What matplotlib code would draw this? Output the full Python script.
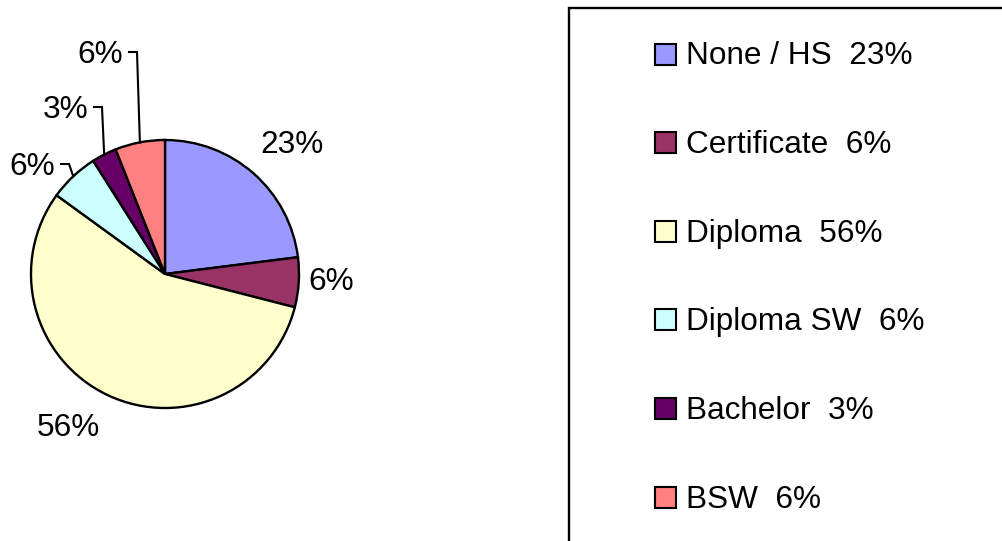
import matplotlib
matplotlib.use("Agg")
import matplotlib.pyplot as plt
from matplotlib.patches import Rectangle
import numpy as np

plt.rcParams["font.family"] = ["Liberation Sans", "DejaVu Sans"]

W, H = 1003, 541

categories = ["None / HS", "Certificate", "Diploma", "Diploma SW", "Bachelor", "BSW"]
shares = [23, 6, 56, 6, 3, 6]
colors = ["#9999FF", "#993366", "#FFFFCC", "#CCFFFF", "#660066", "#FF8080"]

# label layout in pixel coords (x, baseline y from top), leader flag
label_pos = [(292, 153, False), (331, 290, False), (68, 436, False),
             (55, 175, True), (88, 118, True), (123, 63, True)]

FS = 22.7

fig = plt.figure(figsize=(W / 100, H / 100), dpi=100)
ax = fig.add_axes([0, 0, 1, 1])

cx, cy, r = 165, H - 274, 134
wedges, _ = ax.pie(shares, colors=colors, startangle=90, counterclock=False,
                   center=(cx, cy), radius=r,
                   wedgeprops=dict(edgecolor="black", linewidth=1.7))

for w, v, (lx, ly, leader) in zip(wedges, shares, label_pos):
    txt = f"{v}%"
    if leader:
        ax.text(lx, H - ly, txt, fontsize=FS, ha="right", va="baseline")
        mid = np.deg2rad((w.theta1 + w.theta2) / 2)
        ex, ey = cx + r * np.cos(mid), cy + r * np.sin(mid)
        yl = H - ly + 11
        ax.plot([lx + 6, lx + 14, ex], [yl, yl, ey], color="black", lw=1.5,
                solid_joinstyle="miter")
    else:
        ax.text(lx, H - ly, txt, fontsize=FS, ha="center", va="baseline")

# legend box (runs off the right and bottom edge)
ax.add_patch(Rectangle((569, -30), 600, H - 8 + 30, fill=False,
                       edgecolor="black", lw=1.7))
for i, (cat, v, c) in enumerate(zip(categories, shares, colors)):
    yc = 54 + i * 88.6
    ax.add_patch(Rectangle((655, H - yc - 10.5), 21, 21, facecolor=c,
                           edgecolor="black", lw=1.5))
    ax.text(686, H - yc - 10.5, f"{cat}  {v}%", fontsize=FS, ha="left",
            va="baseline")

ax.set_aspect("auto")
ax.set_xlim(0, W)
ax.set_ylim(0, H)
ax.axis("off")

fig.savefig("out.png", dpi=100, facecolor="white")
